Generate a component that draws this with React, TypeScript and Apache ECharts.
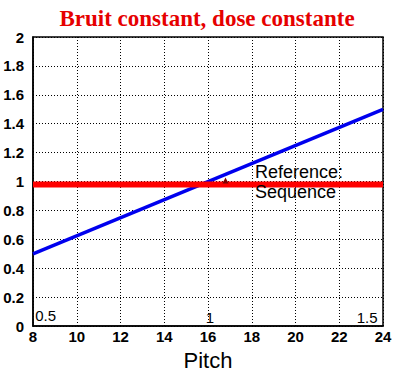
import React, { useEffect, useRef } from "react";
import * as echarts from "echarts";

const xTicks = [8, 10, 12, 14, 16, 18, 20, 22, 24];
const yTicks = [0, 0.2, 0.4, 0.6, 0.8, 1, 1.2, 1.4, 1.6, 1.8, 2];
const bluePitch = [8, 24];
const blueValues = [0.5, 1.5];
const redPitch = [8, 24];
const redValues = [0.98, 0.98];
const ratioLabels = [
  { x: 8.1, y: 0.07, text: "0.5" },
  { x: 15.9, y: 0.06, text: "1" },
  { x: 22.8, y: 0.06, text: "1.5" },
];
const referenceText = { x: 18.15, y: 1.0, text: "Reference:\nSequence" };
const arrowMark = { x: 16.8, y: 0.98 };

export default function App() {
  const ref = useRef<HTMLDivElement>(null);
  useEffect(() => {
    document.body.style.margin = "0";
    const chart = echarts.init(ref.current!, null, { renderer: "svg" });
    const font = "Liberation Sans, Arial, sans-serif";
    const labelBase = {
      show: true,
      fontFamily: font,
      color: "#000",
      opacity: 1,
      textBorderWidth: 0,
      align: "left",
      verticalAlign: "middle",
      position: "right",
      distance: 0,
    };
    chart.setOption({
      animation: false,
      backgroundColor: "#ffffff",
      title: {
        text: "Bruit constant, dose constante",
        left: "center",
        top: 2,
        textStyle: {
          fontFamily: "Liberation Serif, Times New Roman, serif",
          fontWeight: "bold",
          fontSize: 23,
          color: "#e60000",
        },
      },
      grid: { left: 33, right: 31, top: 37, bottom: 46, show: true, borderColor: "#000", borderWidth: 1.5, backgroundColor: "transparent" },
      xAxis: {
        type: "value",
        min: xTicks[0],
        max: xTicks[xTicks.length - 1],
        interval: 2,
        name: "Pitch",
        nameLocation: "middle",
        nameGap: 20,
        nameTextStyle: { fontFamily: font, fontSize: 22, color: "#000" },
        axisLine: { show: true, onZero: false, lineStyle: { color: "#000", width: 1.5 } },
        axisTick: { show: false },
        axisLabel: { fontFamily: font, fontSize: 15, fontWeight: "bold", color: "#000", margin: 3 },
        splitLine: { show: true, lineStyle: { color: "#000", type: [1, 2], width: 1 } },
      },
      yAxis: {
        type: "value",
        min: yTicks[0],
        max: yTicks[yTicks.length - 1],
        interval: 0.2,
        axisLine: { show: true, lineStyle: { color: "#000", width: 1.5 } },
        axisTick: { show: false },
        axisLabel: {
          fontFamily: font,
          fontSize: 15,
          fontWeight: "bold",
          color: "#000",
          margin: 9,
          formatter: (v: number) => String(Math.round(v * 10) / 10),
        },
        splitLine: { show: true, lineStyle: { color: "#000", type: [1, 2], width: 1 } },
      },
      series: [
        {
          type: "line",
          data: bluePitch.map((x, i) => [x, blueValues[i]]),
          symbol: "none",
          lineStyle: { color: "#0000ee", width: 3.5 },
          z: 3,
        },
        {
          type: "line",
          data: redPitch.map((x, i) => [x, redValues[i]]),
          symbol: "none",
          lineStyle: { color: "#ff0000", width: 6 },
          z: 4,
          markPoint: {
            symbol: "triangle",
            symbolSize: [6, 6],
            symbolOffset: [0, -4],
            itemStyle: { color: "#800000" },
            label: { show: false },
            data: [{ coord: [arrowMark.x, arrowMark.y] }],
          },
        },
        {
          type: "scatter",
          data: ratioLabels.map((d) => [d.x, d.y, d.text]),
          symbolSize: 0,
          silent: true,
          itemStyle: { opacity: 1 },
          label: { ...labelBase, fontSize: 15, formatter: (p: any) => p.data[2] },
          z: 5,
        },
        {
          type: "scatter",
          data: [[referenceText.x, referenceText.y, referenceText.text]],
          symbolSize: 0,
          silent: true,
          itemStyle: { opacity: 1 },
          label: { ...labelBase, fontSize: 18, lineHeight: 20, formatter: (p: any) => p.data[2] },
          z: 6,
        },
      ],
    });
    return () => chart.dispose();
  }, []);
  return <div ref={ref} style={{ position: "fixed", left: 0, top: 0, width: 414, height: 376 }} />;
}
